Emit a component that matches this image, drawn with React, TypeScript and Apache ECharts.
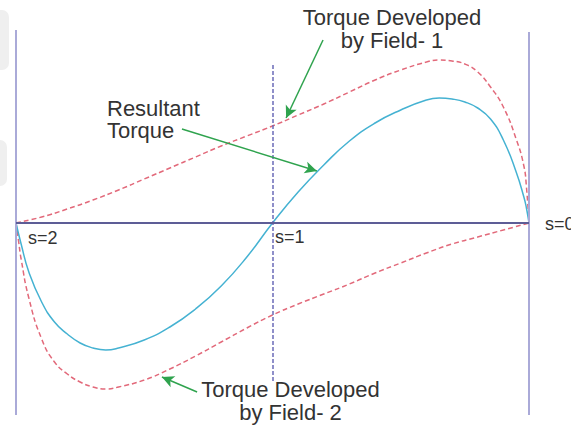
import React, { useEffect, useRef } from "react";
import * as echarts from "echarts";

// Slip values (s) and torque values (arbitrary units)
const slipField1 = [2.0, 1.9, 1.8, 1.7, 1.6, 1.5, 1.4, 1.3, 1.2, 1.1, 1.0, 0.9, 0.8, 0.7, 0.6, 0.5, 0.4, 0.35, 0.3, 0.25, 0.2, 0.15, 0.1, 0.05, 0.02, 0.01, 0];
const torqueField1 = [0, 0.06, 0.14, 0.23, 0.33, 0.44, 0.55, 0.66, 0.77, 0.87, 0.97, 1.08, 1.19, 1.31, 1.43, 1.53, 1.61, 1.63, 1.62, 1.59, 1.51, 1.36, 1.16, 0.84, 0.57, 0.36, 0];

const slipField2 = [2.0, 1.99, 1.98, 1.95, 1.9, 1.85, 1.8, 1.75, 1.7, 1.65, 1.6, 1.5, 1.4, 1.3, 1.2, 1.1, 1.0, 0.9, 0.8, 0.7, 0.6, 0.5, 0.4, 0.3, 0.2, 0.1, 0];
const torqueField2 = [0, -0.18, -0.36, -0.75, -1.16, -1.39, -1.51, -1.59, -1.64, -1.66, -1.64, -1.57, -1.46, -1.33, -1.19, -1.05, -0.92, -0.81, -0.71, -0.61, -0.5, -0.4, -0.3, -0.21, -0.14, -0.07, 0];

const slipResultant = [2.0, 1.98, 1.95, 1.9, 1.85, 1.8, 1.75, 1.7, 1.65, 1.6, 1.5, 1.4, 1.3, 1.2, 1.1, 1.0, 0.9, 0.8, 0.7, 0.6, 0.5, 0.4, 0.35, 0.3, 0.25, 0.2, 0.15, 0.1, 0.05, 0.02, 0.01, 0];
const torqueResultant = [0, -0.21, -0.49, -0.79, -0.99, -1.11, -1.2, -1.25, -1.27, -1.25, -1.17, -1.04, -0.86, -0.63, -0.34, 0, 0.31, 0.58, 0.82, 1.0, 1.13, 1.23, 1.25, 1.24, 1.21, 1.15, 1.04, 0.83, 0.51, 0.26, 0.15, 0];

const slipLabels = ["s=2", "s=1", "s=0"];
const slipMarks = [2, 1, 0];
const annotations = ["Torque Developed\nby Field- 1", "Resultant\nTorque", "Torque Developed\nby Field- 2"];

const zip = (xs: number[], ys: number[]) => xs.map((x, i) => [x, ys[i]]);

export default function App() {
  const ref = useRef<HTMLDivElement>(null);
  useEffect(() => {
    if (!ref.current) return;
    const chart = echarts.init(ref.current, null, { renderer: "svg" });
    const font = "Liberation Sans, Arial, sans-serif";
    const textColor = "#333333";
    const green = "#2fa34e";
    const red = "#e2697a";
    const cyan = "#45b2d2";

    const arrow = (from: number[], to: number[]) => [
      { coord: from, symbol: "none" },
      { coord: to, symbol: "arrow" },
    ];

    const curve = (name: string, data: number[][], color: string, dashed: boolean) => ({
      type: "line",
      name,
      data,
      showSymbol: false,
      smooth: 0.5,
      lineStyle: { color, width: 1.5, type: dashed ? [5, 3] : "solid" },
    });

    chart.setOption({
      animation: false,
      grid: { left: 16, right: 42, top: 30, bottom: 10 },
      xAxis: {
        type: "value",
        min: 0,
        max: 2,
        inverse: true,
        axisLine: { show: false },
        axisTick: { show: false },
        axisLabel: { show: false },
        splitLine: { show: false },
      },
      yAxis: {
        type: "value",
        min: -1.92,
        max: 1.93,
        show: false,
        splitLine: { show: false },
      },
      series: [
        {
          type: "line",
          name: "frame",
          data: [],
          markLine: {
            silent: true,
            symbol: "none",
            label: { show: false },
            data: [
              [
                { coord: [slipMarks[0], 1.93], lineStyle: { color: "#aaaad8", width: 2, type: "solid" } },
                { coord: [slipMarks[0], -1.92] },
              ],
              [
                { coord: [slipMarks[2], 1.91], lineStyle: { color: "#aaaad8", width: 2, type: "solid" } },
                { coord: [slipMarks[2], -1.92] },
              ],
              [
                { coord: [slipMarks[1], 1.58], lineStyle: { color: "#6b6bb8", width: 1.5, type: [4, 2] } },
                { coord: [slipMarks[1], -1.59] },
              ],
              [
                { coord: [slipMarks[0], 0], lineStyle: { color: "#5d5d96", width: 2, type: "solid" } },
                { coord: [slipMarks[2], 0] },
              ],
            ],
          },
        },
        curve("Torque Developed by Field- 1", zip(slipField1, torqueField1), red, true),
        curve("Torque Developed by Field- 2", zip(slipField2, torqueField2), red, true),
        curve("Resultant Torque", zip(slipResultant, torqueResultant), cyan, false),
        {
          type: "line",
          name: "arrows",
          data: [],
          markLine: {
            silent: true,
            symbolSize: [9, 12],
            label: { show: false },
            lineStyle: { color: green, width: 1.5, type: "solid" },
            itemStyle: { color: green },
            data: [
              arrow([0.803, 1.83], [0.947, 1.05]),
              arrow([1.353, 0.94], [0.827, 0.52]),
              arrow([1.294, -1.69], [1.431, -1.54]),
            ],
          },
        },
      ],
      graphic: [
        { type: "rect", shape: { x: -8, y: 10, width: 17, height: 60, r: 7 }, style: { fill: "#efefef" }, silent: true },
        { type: "rect", shape: { x: -8, y: 140, width: 15, height: 46, r: 7 }, style: { fill: "#efefef" }, silent: true },
        { type: "text", x: 392, y: 29, style: { text: annotations[0], font: `22px ${font}`, lineHeight: 23.5, fill: textColor, textAlign: "center", textVerticalAlign: "middle" } },
        { type: "text", x: 107, y: 119, style: { text: annotations[1], font: `22px ${font}`, lineHeight: 22, fill: textColor, textAlign: "left", textVerticalAlign: "middle" } },
        { type: "text", x: 290.5, y: 401, style: { text: annotations[2], font: `22px ${font}`, lineHeight: 23, fill: textColor, textAlign: "center", textVerticalAlign: "middle" } },
        { type: "text", x: 28, y: 238, style: { text: slipLabels[0], font: `18px ${font}`, fill: textColor, textAlign: "left", textVerticalAlign: "middle" } },
        { type: "text", x: 275, y: 237, style: { text: slipLabels[1], font: `18px ${font}`, fill: textColor, textAlign: "left", textVerticalAlign: "middle" } },
        { type: "text", x: 545, y: 224, style: { text: slipLabels[2], font: `18px ${font}`, fill: textColor, textAlign: "left", textVerticalAlign: "middle" } },
      ],
    });
    return () => chart.dispose();
  }, []);
  return (
    <div
      ref={ref}
      style={{ position: "fixed", left: 0, top: 0, width: 571, height: 425, background: "#ffffff" }}
    />
  );
}
